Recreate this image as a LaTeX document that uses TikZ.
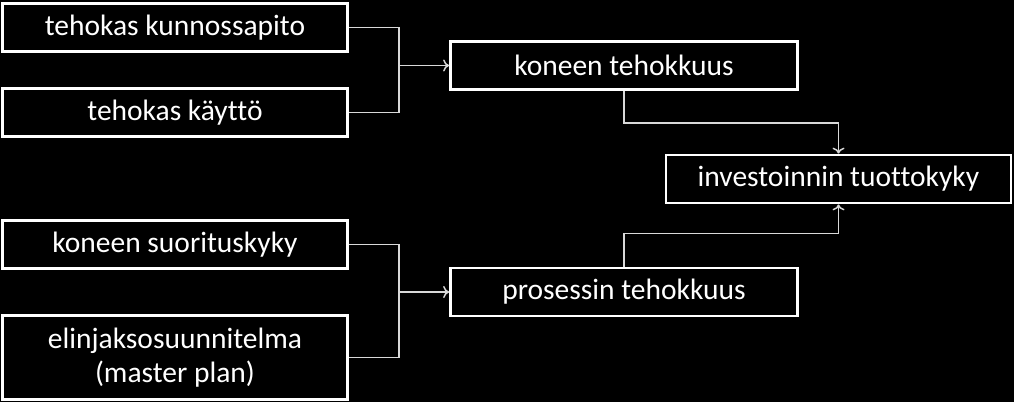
\documentclass[tikz,border=0pt]{standalone}
\usepackage{fontspec}
\setmainfont{Carlito}[Ligatures=NoCommon]
\usetikzlibrary{arrows.meta}
\begin{document}
\begin{tikzpicture}
		    [x=1pt,y=-1pt,%%%%%%%%%%%%%%%%%%%%%%%%%%%%%%
		        box/.style={rectangle,draw=white,line width=2.8pt,fill=black,text=white,
		            minimum width=345pt,minimum height=48pt,inner sep=0pt,align=center,
		            font=\fontsize{29.5}{34}\selectfont},
		        link/.style={draw=white!85!black,line width=1.5pt},
		        tip/.style={link,-{To[length=6pt,width=12pt]}},
		    ]%%%%%%%%%%%%%%%%%%%%%%%%%%%%%%
		\fill[black] (0,0) rectangle (1014,402);
		\useasboundingbox (0,0) rectangle (1014,402);

		\node[box] (kunnossapito) at (175,27.5) {tehokas kunnossapito};
		\node[box] (kaytto) at (175,112.5) {tehokas käyttö};
		\node[box] (suorituskyky) at (175,244.5) {koneen suorituskyky};
		\node[box, minimum height=84pt] (elinjakso) at (175,357.5) {elinjaksosuunnitelma\\(master plan)};

		\node[box, minimum width=347pt] (koneen) at (624,65.5) {koneen tehokkuus};
		\node[box, minimum width=347pt] (prosessin) at (624,292) {prosessin tehokkuus};
		\node[box] (investointi) at (838.5,179) {investoinnin tuottokyky};

		\coordinate (ylahaara) at (399,65.5);
		\coordinate (alahaara) at (399,292);

		\draw[link] (kunnossapito.east) -| (ylahaara) |- (kaytto.east);
		\draw[tip] (ylahaara) -- (koneen.west);
		\draw[link] (suorituskyky.east) -| (alahaara) |- (elinjakso.east);
		\draw[tip] (alahaara) -- (prosessin.west);

		\draw[tip] (koneen.south) -- ++(0,32) -| (investointi.north);
		\draw[tip] (prosessin.north) -- ++(0,-33) -| (investointi.south);
		\end{tikzpicture}
\end{document}
